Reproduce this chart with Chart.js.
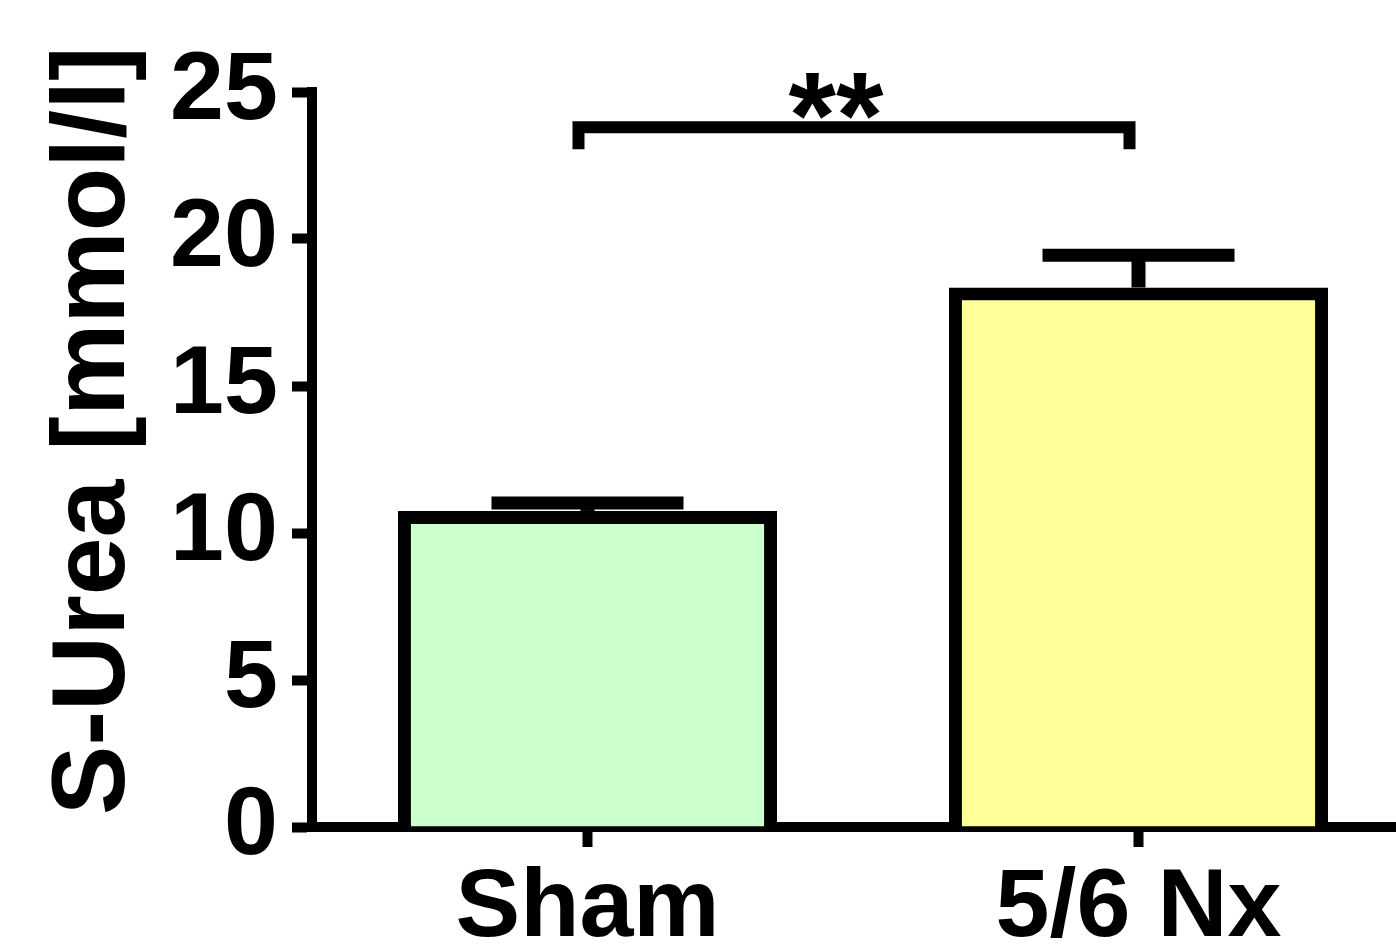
<!DOCTYPE html>
<html lang="en">
<head>
    <meta charset="UTF-8">
    <title>S-Urea</title>
    <script src="https://cdn.jsdelivr.net/npm/chart.js"></script>
    <style>
        html, body {
            margin: 0;
            padding: 0;
            background: #fff;
            overflow: hidden;
        }
        canvas {
            display: block;
        }
    </style>
</head>
<body>
    <canvas id="ureaChart" width="1414" height="951"></canvas>

    <script>
        // data
        const groups = ['Sham', '5/6 Nx'];
        const means = [10.75, 18.35];
        const sem = [0.27, 1.1];
        const barColors = ['#CCFFCC', '#FFFF99'];
        const yTicks = [0, 5, 10, 15, 20, 25];
        const signif = '**';
        const bracketLevel = 23.8;
        const bracketLeg = 23.05;

        const FONT = "'Liberation Sans', Arial, sans-serif";

        // error bars, bracket and stars on top of the bars
        const extras = {
            id: 'extras',
            afterDraw(chart) {
                const ctx = chart.ctx;
                const x = chart.scales.x;
                const y = chart.scales.y;
                ctx.save();
                ctx.strokeStyle = '#000';
                ctx.fillStyle = '#000';
                ctx.lineCap = 'butt';

                means.forEach((m, i) => {
                    const cx = x.getPixelForValue(i);
                    const base = y.getPixelForValue(m);
                    const top = y.getPixelForValue(m + sem[i]);
                    ctx.lineWidth = 14;
                    ctx.beginPath();
                    ctx.moveTo(cx, base);
                    ctx.lineTo(cx, top);
                    ctx.stroke();
                    ctx.lineWidth = 13;
                    ctx.beginPath();
                    ctx.moveTo(cx - 96, top);
                    ctx.lineTo(cx + 96, top);
                    ctx.stroke();
                });

                // significance bracket
                const x0 = x.getPixelForValue(0) - 9;
                const x1 = x.getPixelForValue(1) - 9;
                const yTop = y.getPixelForValue(bracketLevel);
                const yLeg = y.getPixelForValue(bracketLeg);
                ctx.lineWidth = 12;
                ctx.lineJoin = 'miter';
                ctx.beginPath();
                ctx.moveTo(x0, yLeg);
                ctx.lineTo(x0, yTop);
                ctx.lineTo(x1, yTop);
                ctx.lineTo(x1, yLeg);
                ctx.stroke();

                ctx.font = 'bold 122px ' + FONT;
                ctx.textAlign = 'center';
                ctx.textBaseline = 'alphabetic';
                ctx.fillText(signif, (x0 + x1) / 2 - 18, yTop + 30);
                ctx.restore();
            }
        };

        const ctx = document.getElementById('ureaChart').getContext('2d');
        new Chart(ctx, {
            type: 'bar',
            data: {
                labels: groups,
                datasets: [{
                    data: means,
                    backgroundColor: barColors,
                    borderColor: '#000',
                    borderWidth: 13,
                    borderSkipped: 'start',
                    categoryPercentage: 1,
                    barPercentage: 0.688
                }]
            },
            options: {
                responsive: false,
                animation: false,
                layout: {
                    padding: { top: 92, left: 0, right: 0, bottom: 0 }
                },
                plugins: {
                    legend: { display: false },
                    tooltip: { enabled: false }
                },
                scales: {
                    x: {
                        z: 1,
                        offset: true,
                        grid: {
                            offset: false,
                            drawOnChartArea: false,
                            tickLength: 20,
                            tickWidth: 10,
                            tickColor: '#000'
                        },
                        border: { display: true, width: 10, color: '#000' },
                        ticks: {
                            color: '#000',
                            padding: 4,
                            font: { family: FONT, size: 97, weight: 'bold' }
                        },
                        afterFit(scale) { scale.height = 124; }
                    },
                    y: {
                        z: 1,
                        min: 0,
                        max: 25,
                        afterBuildTicks(scale) {
                            scale.ticks = yTicks.map(v => ({ value: v }));
                        },
                        grid: {
                            drawOnChartArea: false,
                            tickLength: 20,
                            tickWidth: 10,
                            tickColor: '#000'
                        },
                        border: { display: true, width: 10, color: '#000' },
                        ticks: {
                            color: '#000',
                            padding: 14,
                            autoSkip: false,
                            font: { family: FONT, size: 97, weight: 'bold' }
                        },
                        title: {
                            display: true,
                            text: '  S-Urea [mmol/l]',
                            color: '#000',
                            padding: { top: 33, bottom: 0 },
                            font: { family: FONT, size: 104, weight: 'bold' }
                        },
                        afterFit(scale) { scale.width = 312; }
                    }
                }
            },
            plugins: [extras]
        });
    </script>
</body>
</html>
